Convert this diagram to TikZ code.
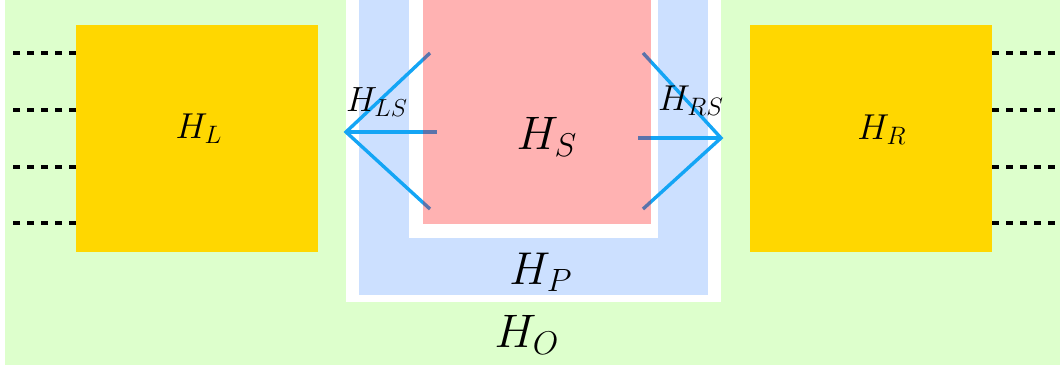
\RequirePackage{fix-cm}
\documentclass[tikz,border=0pt]{standalone}
\definecolor{bgGreen}{RGB}{221,255,204}
\definecolor{boxYellow}{RGB}{255,215,0}
\definecolor{pBlue}{RGB}{204,224,255}
\definecolor{lineBlue}{RGB}{20,165,245}
\begin{document}
\begin{tikzpicture}[x=0.5pt,y=-0.5pt,
  ybox/.style={fill=boxYellow, draw=none, inner sep=0pt, outer sep=0pt, minimum width=121pt, minimum height=113.5pt, anchor=north west},
  leg/.style={black, line width=1.9pt, dash pattern=on 3.5pt off 3.5pt},
  coupling/.style={lineBlue, line width=1.7pt},
  lab/.style={inner sep=0pt, outer sep=0pt, text=black}]
\useasboundingbox (0,0) rectangle (1060,369);
% nested regions
\fill[bgGreen] (5,0) rectangle (1060,365);
\fill[white] (346,0) rectangle (721,302);
\fill[pBlue] (359,0) rectangle (708,295);
\fill[white] (409,0) rectangle (658,238);
% lead boxes
\node[ybox] (L) at (76,25) {};
\node[ybox] (R) at (750,25) {};
% dashed leads
\foreach \yy [count=\i] in {53,110,167,223}{
  \coordinate (l\i) at (12,\yy);
  \coordinate (r\i) at (1060,\yy);
  \draw[leg] (l\i -| L.west) -- (l\i);
  \draw[leg] (r\i -| R.east) -- (r\i);
}
% couplings
\coordinate (ls) at (346,132);
\coordinate (ls1) at (430,53);
\coordinate (ls2) at (437,132);
\coordinate (ls3) at (430,209);
\coordinate (rs) at (721,138);
\coordinate (rs1) at (643,53);
\coordinate (rs2) at (638,138);
\coordinate (rs3) at (643,209);
\draw[coupling] (ls1) -- (ls) -- (ls3);
\draw[coupling] (ls) -- (ls2);
\draw[coupling] (rs1) -- (rs) -- (rs3);
\draw[coupling] (rs) -- (rs2);
% system
\node[fill=red, fill opacity=0.3, draw=none, inner sep=0pt, outer sep=0pt, minimum width=114pt, minimum height=112pt, anchor=north west] (S) at (423,0) {};
% labels
\node[lab] (tL) at (199,129) {\fontsize{18}{20}\selectfont $H_L$};
\node[lab] (tR) at (882,130) {\fontsize{18}{20}\selectfont $H_R$};
\node[lab] (tS) at (547,137) {\fontsize{23.5}{26}\selectfont $H_S$};
\node[lab] (tP) at (541,272) {\fontsize{23}{26}\selectfont $H_P$};
\node[lab] (tO) at (527,335) {\fontsize{23.5}{26}\selectfont $H_O$};
\node[lab] (tLS) at (377,102) {\fontsize{17.5}{20}\selectfont $H_{LS}$};
\node[lab] (tRS) at (691,101) {\fontsize{18}{20}\selectfont $H_{RS}$};
\end{tikzpicture}
\end{document}
